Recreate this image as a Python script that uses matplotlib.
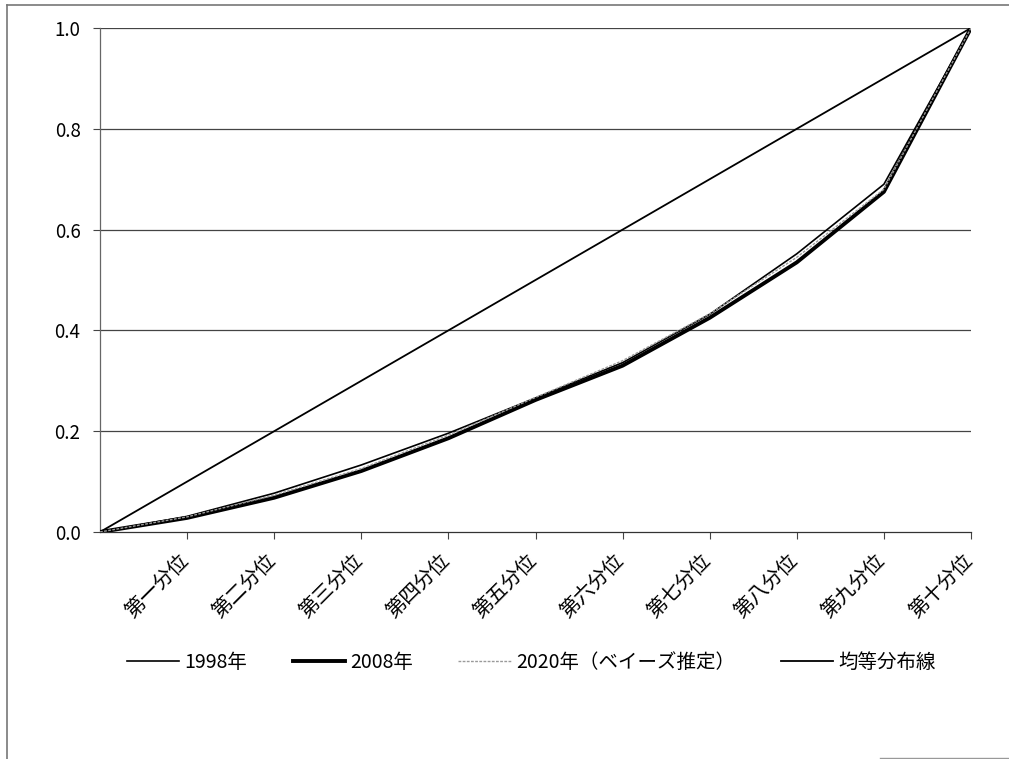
import numpy as np
import matplotlib
matplotlib.use('Agg')
from matplotlib import pyplot as plt
from matplotlib.lines import Line2D
from matplotlib.transforms import ScaledTranslation

plt.rcParams['font.family'] = ['Noto Sans CJK JP', 'DejaVu Sans']

# deciles (origin + 10)
labels = ['第一分位', '第二分位', '第三分位', '第四分位', '第五分位',
          '第六分位', '第七分位', '第八分位', '第九分位', '第十分位']
y1998 = [0.0, 0.031, 0.077, 0.133, 0.196, 0.266, 0.336, 0.432, 0.552, 0.690, 1.0]
y2008 = [0.0, 0.028, 0.068, 0.121, 0.186, 0.262, 0.330, 0.425, 0.535, 0.675, 1.0]
y2020 = [0.0, 0.030, 0.073, 0.126, 0.192, 0.267, 0.340, 0.433, 0.545, 0.680, 1.0]
yeq = [0.0, 0.1, 0.2, 0.3, 0.4, 0.5, 0.6, 0.7, 0.8, 0.9, 1.0]
x = np.arange(len(yeq))

fig = plt.figure(figsize=(10.09, 7.59), dpi=100)
ax = fig.add_axes([100 / 1009, 1 - 532 / 759, 871 / 1009, 504 / 759])

for yv in [0.2, 0.4, 0.6, 0.8, 1.0]:
    ax.axhline(yv, color='#444444', lw=0.9, zorder=1)

ax.plot(x, yeq, color='black', lw=1.3, zorder=3)
ax.plot(x, y1998, color='black', lw=1.2, zorder=3)
ax.plot(x, y2008, color='black', lw=2.8, zorder=4)
ax.plot(x, y2020, color='#9a9a9a', lw=1.0, ls=(0, (2, 1)), zorder=5)

ax.set_xlim(0, 10)
ax.set_ylim(0, 1.0)
ax.set_yticks(np.arange(0, 1.01, 0.2))
ax.set_yticklabels(['%.1f' % v for v in np.arange(0, 1.01, 0.2)], fontsize=13.5)
ax.set_xticks(x[1:])
ax.set_xticklabels(labels, fontsize=14.5, rotation=45, ha='right', va='top')
ax.tick_params('x', length=5, pad=8, color='#444444')
ax.tick_params('y', length=5, pad=9, color='#444444')
shift = ScaledTranslation(6 / 100, 0, fig.dpi_scale_trans)
for lab in ax.get_xticklabels():
    lab.set_transform(lab.get_transform() + shift)

for s in ['top', 'right']:
    ax.spines[s].set_visible(False)
ax.spines['left'].set_color('#666666')
ax.spines['bottom'].set_color('#333333')
ax.spines['left'].set_linewidth(0.9)
ax.spines['bottom'].set_linewidth(0.9)

handles = [Line2D([], [], color='black', lw=1.2),
           Line2D([], [], color='black', lw=2.8),
           Line2D([], [], color='#9a9a9a', lw=1.0, ls=(0, (2, 1))),
           Line2D([], [], color='black', lw=1.3)]
names = ['1998年', '2008年', '2020年（ベイーズ推定）', '均等分布線']
fig.legend(handles, names, loc='center', bbox_to_anchor=(531 / 1009, 1 - 662 / 759),
           ncol=4, frameon=False, fontsize=14, handlelength=2.7,
           handletextpad=0.25, columnspacing=2.35)

# scanned page frame
fig.add_artist(Line2D([7 / 1009, 7 / 1009], [0, 1 - 5 / 759], transform=fig.transFigure,
                      color='#777777', lw=1.2))
fig.add_artist(Line2D([7 / 1009, 1], [1 - 5 / 759, 1 - 5 / 759], transform=fig.transFigure,
                      color='#777777', lw=1.2))
fig.add_artist(Line2D([880 / 1009, 1], [1.5 / 759, 1.5 / 759], transform=fig.transFigure,
                      color='#999999', lw=1.0))

fig.savefig('out.png', dpi=100)
